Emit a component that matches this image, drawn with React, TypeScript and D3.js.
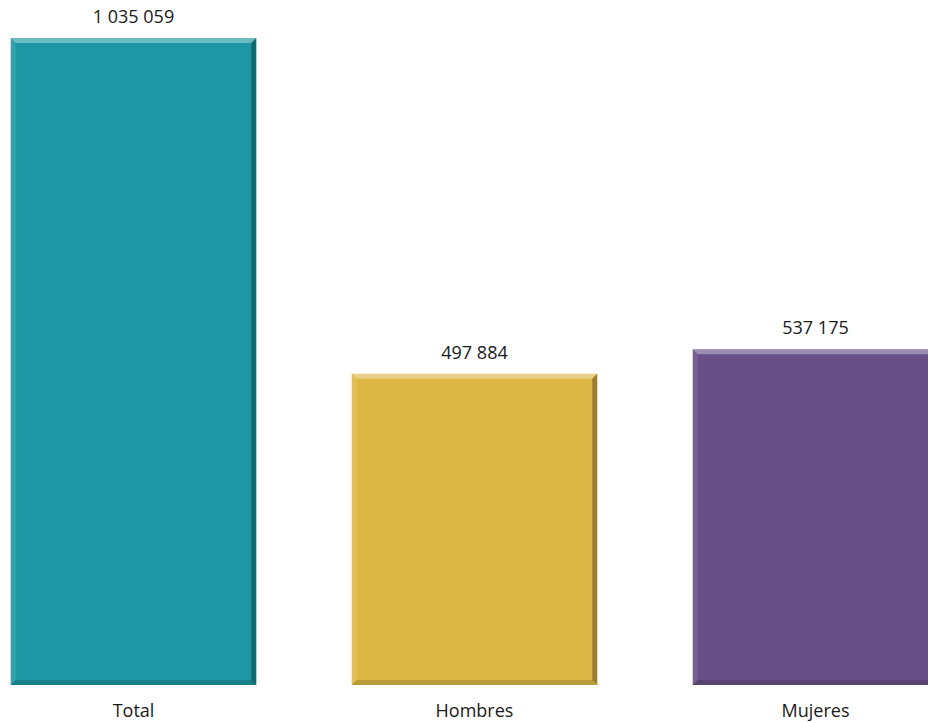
import React from "react";
import * as d3 from "d3";

const categories = ["Total", "Hombres", "Mujeres"];
const values = [1035059, 497884, 537175];
const colors = ["#1c97a3", "#ddb746", "#684f87"];

const W = 928;
const H = 722;

export default function App() {
  const x = d3.scaleBand<string>().domain(categories).range([-37, 986]).paddingInner(0.28).paddingOuter(0.14);
  const y = d3.scaleLinear().domain([0, 1035059]).range([685, 38]);
  const fmt = (v: number) => d3.format(",")(v).replace(/,/g, " ");
  const b = 5;
  return (
    <div style={{ position: "absolute", left: 0, top: 0, width: W, height: H, overflow: "hidden", background: "#fff" }}>
      <svg width={W} height={H} style={{ display: "block", fontFamily: "'Open Sans', sans-serif" }}>
        {categories.map((c, i) => {
          const x0 = x(c)!;
          const w = x.bandwidth();
          const y0 = y(values[i]);
          const y1 = y(0);
          const x1 = x0 + w;
          return (
            <g key={c}>
              <rect x={x0} y={y0} width={w} height={y1 - y0} fill={colors[i]} />
              <polygon points={`${x0},${y0} ${x1},${y0} ${x1 - b},${y0 + b} ${x0 + b},${y0 + b}`} fill="#fff" opacity={0.35} />
              <polygon points={`${x0},${y0} ${x0 + b},${y0 + b} ${x0 + b},${y1 - b} ${x0},${y1}`} fill="#fff" opacity={0.1} />
              <polygon points={`${x1},${y0} ${x1},${y1} ${x1 - b},${y1 - b} ${x1 - b},${y0 + b}`} fill="#000" opacity={0.3} />
              <polygon points={`${x0},${y1} ${x1},${y1} ${x1 - b},${y1 - b} ${x0 + b},${y1 - b}`} fill="#000" opacity={0.15} />
              <text x={x0 + w / 2} y={y0 - 15} textAnchor="middle" fontSize={18} fill="#1a1a1a">{fmt(values[i])}</text>
              <text x={x0 + w / 2} y={717} textAnchor="middle" fontSize={18} fill="#1a1a1a">{c}</text>
            </g>
          );
        })}
      </svg>
    </div>
  );
}
